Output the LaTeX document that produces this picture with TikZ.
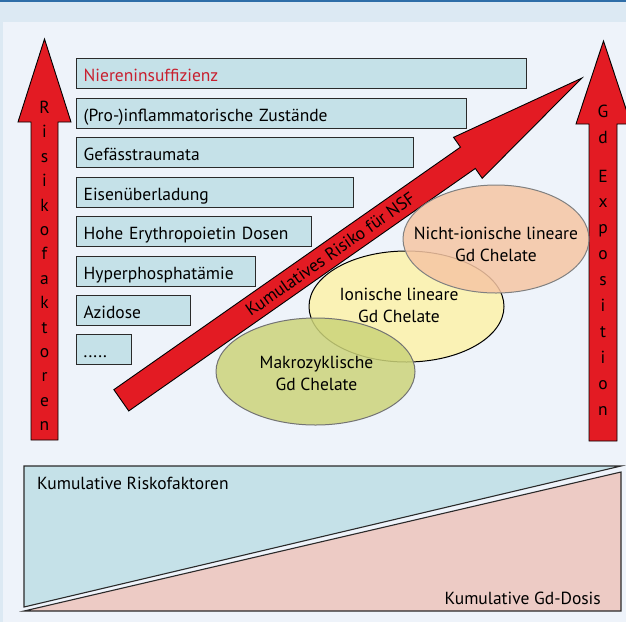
\documentclass[tikz,border=0pt]{standalone}
\usepackage{fontspec}
\setmainfont{PT Sans}
\usetikzlibrary{shapes.geometric}
\definecolor{bandcol}{HTML}{DCE9F3}
\definecolor{topline}{HTML}{2F6EA8}
\definecolor{panelcol}{HTML}{EEF3FA}
\definecolor{boxfill}{HTML}{C5E1E8}
\definecolor{boxline}{HTML}{2A2A2A}
\definecolor{arrred}{HTML}{E31B23}
\definecolor{txtred}{HTML}{C8202F}
\definecolor{pinkfill}{HTML}{EDCBC5}
\definecolor{orfill}{HTML}{F6C6A4}
\definecolor{yefill}{HTML}{FDF2AA}
\definecolor{grfill}{HTML}{CCD47A}
\newcommand{\mfs}{\fontsize{17.5}{22}\selectfont}
\begin{document}
\begin{tikzpicture}[x=1pt,y=-1pt,
  rbox/.style={draw=boxline, line width=1.3pt, fill=boxfill, anchor=north west,
    minimum height=30pt, inner xsep=7pt, inner ysep=0pt, text height=16.5pt,
    text depth=0pt, align=left, font=\mfs},
  redarr/.style={fill=arrred, draw=black, line width=0.9pt, line join=miter},
  letter/.style={anchor=base, font=\mfs, inner sep=0pt},
  chel/.style={ellipse, inner sep=0pt, fill opacity=0.85, line width=1pt},
  cheltext/.style={align=center, font=\mfs, inner sep=0pt},
  tri/.style={draw=boxline, line width=1.1pt, line join=miter}
]
\useasboundingbox (0,0) rectangle (626,622);
\clip (0,0) rectangle (626,622);
% background
\fill[bandcol] (0,0) rectangle (626,622);
\fill[panelcol] (3,22) rectangle (626,622);
\fill[topline] (0,0) rectangle (626,2);

% left arrow
\draw[redarr] (31,440) -- (31,122) -- (18,122) -- (44.5,39) -- (71,122) -- (58,122) -- (58,440) -- cycle;
\foreach \c [count=\k from 0] in {R,i,s,i,k,o,f,a,k,t,o,r,e,n}
  \node[letter] (lr\k) at (44.5,113.5+24.4*\k) {\c};

% right arrow
\draw[redarr] (589,441) -- (589,124) -- (576,124) -- (603.5,41) -- (631,124) -- (617,124) -- (617,441) -- cycle;
\node[letter] (rg0) at (603,117) {G};
\node[letter] (rg1) at (603,143) {d};
\foreach \c [count=\k from 0] in {E,x,p,o,s,i,t,i,o,n}
  \node[letter] (re\k) at (603,182+25.9*\k) {\c};

% boxes
\node[rbox, text width=436pt, text=txtred] (b1) at (76,58) {\mbox{Niereninsuffizienz}};
\node[rbox, text width=376pt] (b2) at (76,98) {\mbox{(Pro-)inflammatorische Zustände}};
\node[rbox, text width=323pt] (b3) at (76,137) {\mbox{Gefässtraumata}};
\node[rbox, text width=263pt] (b4) at (76,177) {\mbox{Eisenüberladung}};
\node[rbox, text width=221pt] (b5) at (76,216) {\mbox{Hohe Erythropoietin Dosen}};
\node[rbox, text width=165pt] (b6) at (76,256) {\mbox{Hyperphosphatämie}};
\node[rbox, text width=100pt] (b7) at (76,295) {\mbox{Azidose}};
\node[rbox, text width=41pt] (b8) at (76,334) {\mbox{.....}};

% big diagonal arrow
\begin{scope}[shift={(121.3,400.3)}, rotate=34.98]
  \draw[redarr] (0,-13) -- (423,-13) -- (423,-25) -- (562,0) -- (423,25) -- (423,13) -- (0,13) -- cycle;
  \node[font=\mfs, rotate=34.98, inner sep=0pt, anchor=base] (nsf) at (255,6) {Kumulatives Risiko für NSF};
\end{scope}

% chelate ellipses
\node[chel, fill=yefill, draw=black, minimum width=195pt, minimum height=111pt] (ion) at (406.5,306.5) {};
\node[chel, fill=orfill, draw=black!50, minimum width=186pt, minimum height=108pt] (nion) at (496,239) {};
\node[chel, fill=grfill, draw=black!55, minimum width=199pt, minimum height=107pt] (makro) at (315.5,371.5) {};
\node[cheltext] (iont) at (399,305.5) {Ionische lineare\\Gd Chelate};
\node[cheltext] (niont) at (496,244) {Nicht-ionische lineare\\Gd Chelate};
\node[cheltext] (makrot) at (316.5,373) {Makrozyklische\\Gd Chelate};

% bottom triangles
\draw[tri, fill=boxfill] (24,466) -- (621,466) -- (24,607) -- cycle;
\draw[tri, fill=pinkfill] (24,611) -- (621,611) -- (621,472) -- cycle;
\node[font=\mfs, anchor=west, inner sep=0pt] (kr) at (37,483) {Kumulative Riskofaktoren};
\node[font=\mfs, anchor=east, inner sep=0pt] (kg) at (601,598) {Kumulative Gd-Dosis};
\end{tikzpicture}
\end{document}
